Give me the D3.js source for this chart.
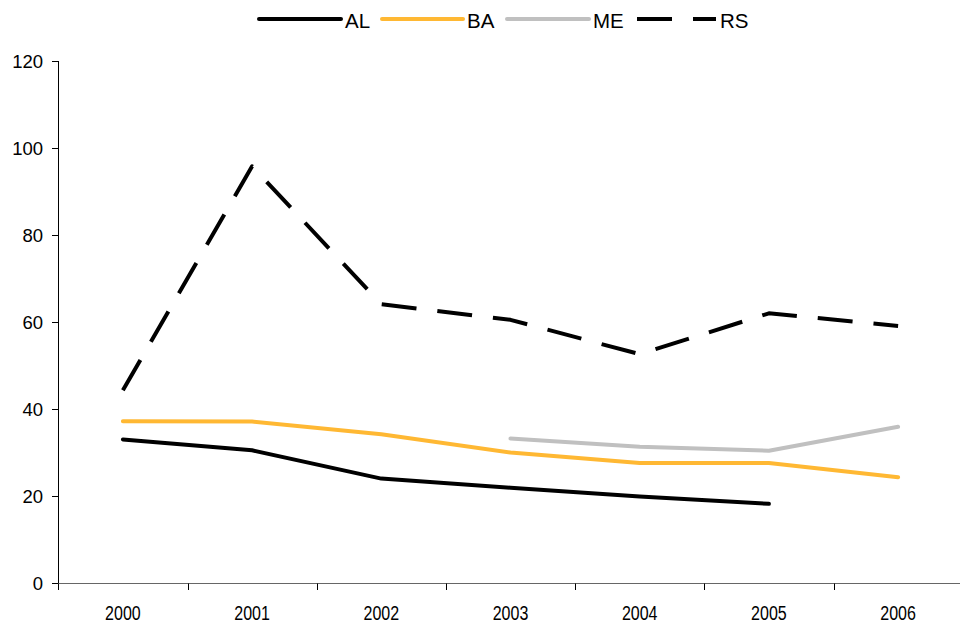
<!DOCTYPE html>
<html>
<head>
<meta charset="utf-8">
<script src="https://cdn.jsdelivr.net/npm/d3@7"></script>
<style>
  html, body { margin: 0; padding: 0; background: #fff; }
  svg { display: block; }
  text { font-family: "Liberation Sans", Arial, sans-serif; fill: #000; }
</style>
</head>
<body>
<svg id="chart" width="960" height="626"></svg>
<script>
const years = ["2000", "2001", "2002", "2003", "2004", "2005", "2006"];
const seriesNames = ["AL", "BA", "ME", "RS"];
const AL = [33.0, 30.5, 24.0, 21.9, 19.9, 18.2, null];
const BA = [37.2, 37.1, 34.2, 30.0, 27.6, 27.6, 24.3];
const ME = [null, null, null, 33.2, 31.3, 30.4, 35.9];
const RS = [44.3, 95.8, 64.1, 60.5, 52.6, 62.0, 59.1];
const yTicks = [0, 20, 40, 60, 80, 100, 120];

const seriesValues = [AL, BA, ME, RS];
const colors = ["#000000", "#FFB833", "#C0C0C0", "#000000"];
const dashes = [null, null, null, "35,21"];

const svg = d3.select("#chart");
const x = d3.scaleBand().domain(years).range([58.3, 962.7]).padding(0);
const y = d3.scaleLinear().domain([0, 120]).range([583, 61]);
const cx = d => x(d) + x.bandwidth() / 2;

// Y axis
const gy = svg.append("g");
gy.append("line").attr("x1", 58.5).attr("x2", 58.5).attr("y1", y(120)).attr("y2", y(0))
  .attr("stroke", "#000").attr("stroke-width", 1);
gy.selectAll("line.t").data(yTicks).enter().append("line").attr("class", "t")
  .attr("x1", 52).attr("x2", 58.5).attr("y1", d => Math.round(y(d)) + 0.5).attr("y2", d => Math.round(y(d)) + 0.5)
  .attr("stroke", "#000").attr("stroke-width", 1);
gy.selectAll("text").data(yTicks).enter().append("text")
  .attr("x", 43).attr("y", d => y(d) + 6.5)
  .attr("text-anchor", "end").style("font-size", "18.5px")
  .text(d => d);

// X axis
const gx = svg.append("g");
gx.append("line").attr("x1", 58).attr("x2", 960).attr("y1", 583.5).attr("y2", 583.5)
  .attr("stroke", "#666").attr("stroke-width", 1.2);
gx.selectAll("line.t").data(years).enter().append("line").attr("class", "t")
  .attr("x1", d => Math.round(x(d)) + 0.5).attr("x2", d => Math.round(x(d)) + 0.5)
  .attr("y1", 583.5).attr("y2", 590)
  .attr("stroke", "#000").attr("stroke-width", 1);
gx.selectAll("text").data(years).enter().append("text")
  .attr("transform", d => `translate(${cx(d)},620) scale(0.8,1)`)
  .attr("text-anchor", "middle").style("font-size", "20px")
  .text(d => d);

// Lines
const line = d3.line()
  .defined(d => d.v !== null)
  .x(d => cx(d.year))
  .y(d => y(d.v));

seriesNames.forEach((name, i) => {
  const data = years.map((yr, j) => ({ year: yr, v: seriesValues[i][j] }));
  const p = svg.append("path").datum(data)
    .attr("d", line)
    .attr("fill", "none")
    .attr("stroke", colors[i])
    .attr("stroke-width", 4)
    .attr("stroke-linejoin", "round")
    .attr("stroke-linecap", dashes[i] ? "butt" : "round");
  if (dashes[i]) p.attr("stroke-dasharray", dashes[i]);
});

// Legend
const legendX = [259, 382, 507, 637];
const legendW = [82, 81, 82, 79];
const lg = svg.append("g");
seriesNames.forEach((name, i) => {
  const l = lg.append("line")
    .attr("x1", legendX[i]).attr("x2", legendX[i] + legendW[i])
    .attr("y1", 19).attr("y2", 19)
    .attr("stroke", colors[i]).attr("stroke-width", 4)
    .attr("stroke-linecap", dashes[i] ? "butt" : "round");
  if (dashes[i]) l.attr("stroke-dasharray", dashes[i]);
  lg.append("text")
    .attr("x", legendX[i] + legendW[i] + 4).attr("y", 27.5)
    .style("font-size", "20.5px")
    .text(name);
});
</script>
</body>
</html>
